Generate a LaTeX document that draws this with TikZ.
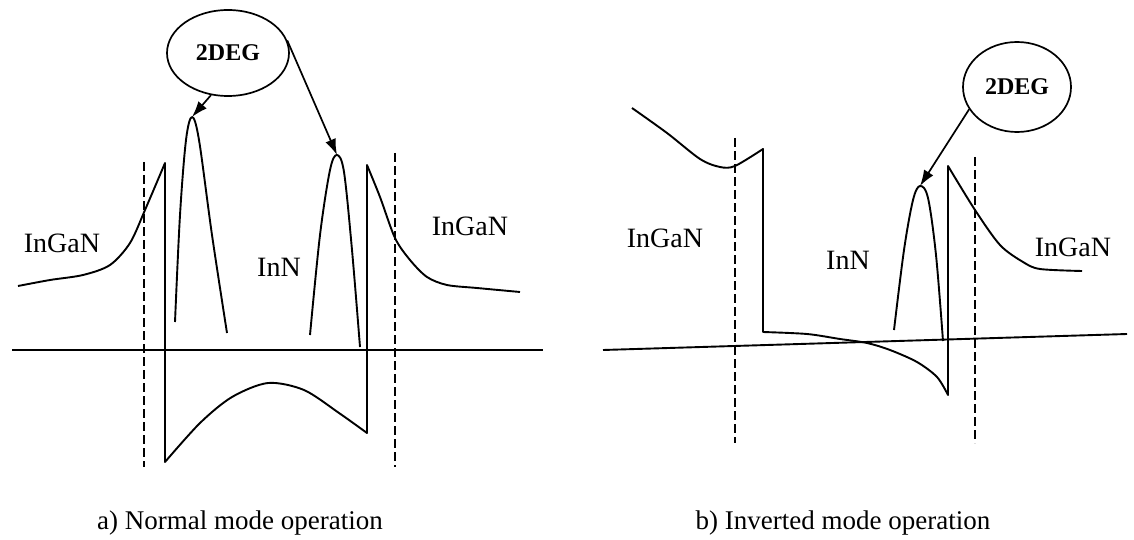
\documentclass[tikz,border=0pt]{standalone}
\usepackage{fontspec}
\setmainfont{Liberation Serif}
\usepackage{tikz}
\usetikzlibrary{
  arrows.meta,      % Latex arrow tips
  shapes.geometric  % ellipse for the 2DEG labels
}

\tikzset{
  band/.style={line width=1.9pt, line join=round},
  axisline/.style={line width=1.9pt},
  sepline/.style={line width=1.7pt, dash pattern=on 9pt off 4pt},
  degnode/.style={ellipse, draw, line width=1.7pt, inner sep=0pt,
    minimum width=122pt, minimum height=86pt,
    font=\fontsize{24}{26}\selectfont\bfseries},
  pointer/.style={line width=1.7pt, -{Latex[length=16pt,width=11pt]}},
  layer/.style={font=\fontsize{28}{30}\selectfont},
  caption/.style={font=\fontsize{27}{30}\selectfont}
}

\begin{document}
\begin{tikzpicture}[x=1pt, y=-1pt]
    \useasboundingbox (0,0) rectangle (1134,540);

    % --- a) normal mode ---
    \draw[axisline] (12,350) -- (543,350);
    \draw[sepline] (144,162) -- (144,467);
    \draw[sepline] (395,153) -- (395,467);

    \draw[band] plot[smooth] coordinates {(18,286) (50,280) (83,275) (110,265) (130,243) (145,210) (165,163)}
      -- (165,462)
      -- plot[smooth] coordinates {(165,462) (200,423) (232,397) (268,383) (304,390) (339,413) (367,433)}
      -- (367,165)
      -- plot[smooth] coordinates {(367,165) (380,197) (395,238) (410,260) (427,277) (447,285) (477,288) (520,292)};

    \draw[band] plot[smooth, tension=0.55] coordinates {(175,322) (180,215) (186,140) (192,117) (199,140) (212,235) (227,333)};
    \draw[band] plot[smooth, tension=0.55] coordinates {(310,335) (320,235) (330,170) (337,155) (344,172) (352,250) (360,347)};

    \coordinate (pkA) at (192,117);
    \coordinate (pkB) at (337,155);

    \node[degnode] (degA) at (228,53) {2DEG};
    \draw[pointer] (degA.248) -- (pkA);
    \draw[pointer] (degA.12) -- (pkB);

    \node[layer] (gaA) at (62,243) {InGaN};
    \node[layer] (innA) at (279,267) {InN};
    \node[layer] (gaB) at (470,226) {InGaN};
    \node[caption] (capA) at (240,523) {a) Normal mode operation};

    % --- b) inverted mode ---
    \draw[axisline] (603,350) -- (1127,334);
    \draw[sepline] (735,138) -- (735,443);
    \draw[sepline] (975,157) -- (975,443);

    \draw[band] plot[smooth] coordinates {(632,108) (667,133) (700,159) (720,167) (735,166) (763,149)}
      -- (763,332)
      -- plot[smooth] coordinates {(763,332) (807,334) (840,339) (867,343) (890,350) (917,362) (937,377) (948,395)}
      -- (948,166)
      -- plot[smooth] coordinates {(948,166) (975,210) (1000,245) (1023,262) (1040,269) (1082,271)};

    \draw[band] plot[smooth, tension=0.55] coordinates {(894,330) (904,250) (913,200) (920,186) (928,198) (936,255) (943,341)};

    \coordinate (pkC) at (920,186);

    \node[degnode, minimum width=108pt, minimum height=90pt] (degB) at (1017,87) {2DEG};
    \draw[pointer] (degB.205) -- (pkC);

    \node[layer] (gaC) at (665,238) {InGaN};
    \node[layer] (innB) at (848,260) {InN};
    \node[layer] (gaD) at (1073,247) {InGaN};
    \node[caption] (capB) at (843,523) {b) Inverted mode operation};

\end{tikzpicture}
\end{document}
